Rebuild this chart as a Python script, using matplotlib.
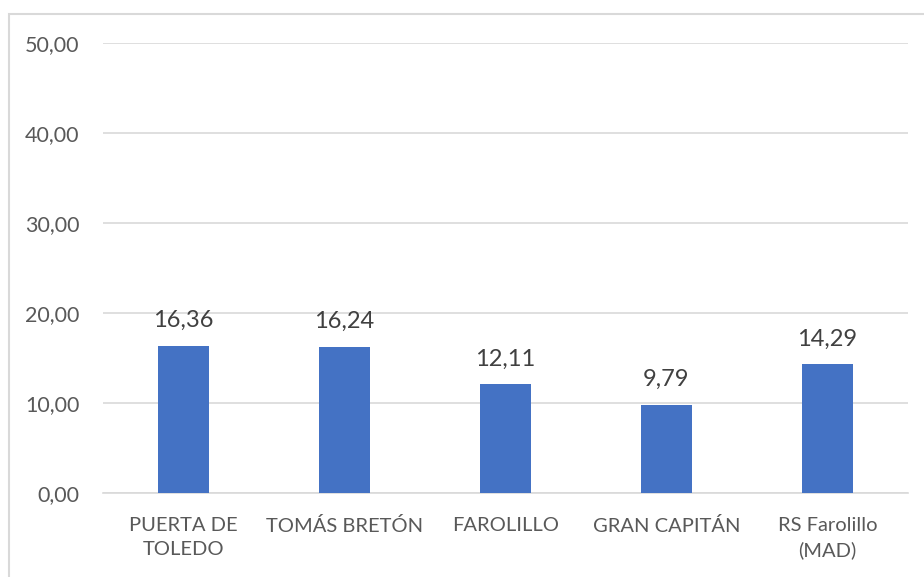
import matplotlib.pyplot as plt
from matplotlib.patches import Rectangle

# chart data
categories = ["PUERTA DE\nTOLEDO", "TOMÁS BRETÓN", "FAROLILLO", "GRAN CAPITÁN", "RS Farolillo\n(MAD)"]
values = [16.36, 16.24, 12.11, 9.79, 14.29]
yticks = [0, 10, 20, 30, 40, 50]

BAR_COLOR = "#4472C4"
GRID_COLOR = "#D9D9D9"
TICK_COLOR = "#595959"
LABEL_COLOR = "#404040"

plt.rcParams["font.family"] = ["Lato", "DejaVu Sans"]


def fmt(v):
    return f"{v:.2f}".replace(".", ",")


fig = plt.figure(figsize=(9.24, 5.77), dpi=100)
W, H = 924, 577
ax = fig.add_axes([103 / W, 1 - 493 / H, (908 - 103) / W, (493 - 43) / H])

x = range(len(categories))
bars = ax.bar(x, values, width=0.315, color=BAR_COLOR, zorder=3)

for b, v in zip(bars, values):
    ax.annotate(fmt(v), (b.get_x() + b.get_width() / 2, v),
                xytext=(0, 10.5), textcoords="offset points",
                ha="center", va="bottom", fontsize=17, color=LABEL_COLOR)

ax.set_xlim(-0.5, len(categories) - 0.5)
ax.set_ylim(0, 50)
ax.set_yticks(yticks)
ax.set_yticklabels([fmt(t) for t in yticks])
ax.set_xticks(list(x))
ax.set_xticklabels(categories, linespacing=1.5)

ax.grid(axis="y", color=GRID_COLOR, linewidth=1.2, zorder=0)
ax.tick_params(axis="both", length=0, labelsize=14.5, colors=TICK_COLOR)
ax.tick_params(axis="y", labelsize=15.5, pad=17)
ax.tick_params(axis="x", pad=17)
for side in ["top", "right", "left"]:
    ax.spines[side].set_visible(False)
ax.spines["bottom"].set_color(GRID_COLOR)
ax.spines["bottom"].set_linewidth(1.2)

# chart frame (only left and top edges fall inside the crop)
fig.add_artist(Rectangle((8.5 / W, -0.1), 1.2, 1.1 - 13.5 / H,
                         transform=fig.transFigure, fill=False,
                         edgecolor=GRID_COLOR, linewidth=1.5))

fig.savefig("out.png", dpi=100)
